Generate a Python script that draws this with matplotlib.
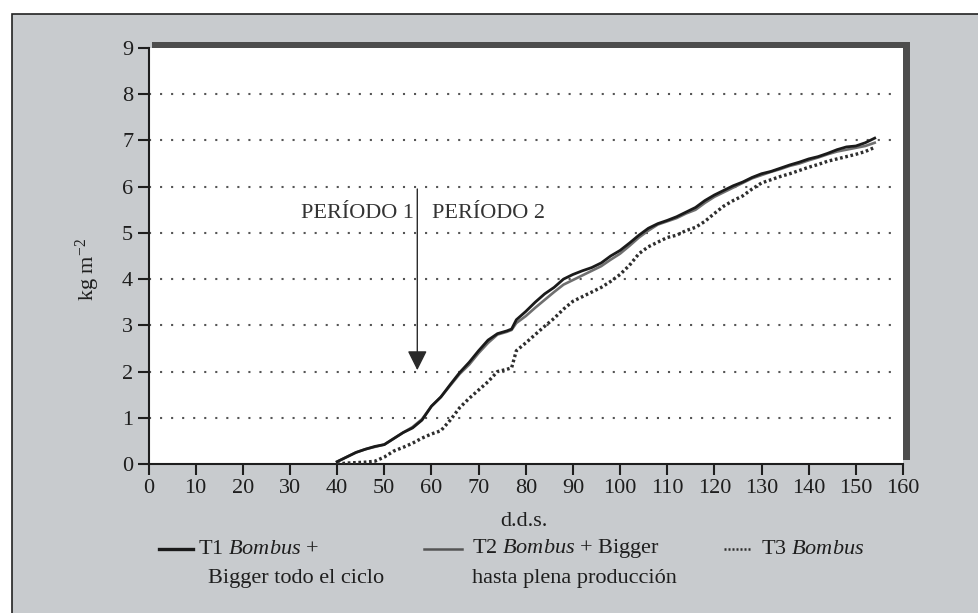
import numpy as np
import matplotlib
matplotlib.use('Agg')
import matplotlib.pyplot as plt
from matplotlib.patches import Rectangle
from matplotlib.lines import Line2D

plt.rcParams['font.family'] = ['Liberation Serif', 'DejaVu Serif']
plt.rcParams['mathtext.fontset'] = 'custom'
plt.rcParams['mathtext.rm'] = 'Liberation Serif'
plt.rcParams['mathtext.it'] = 'Liberation Serif:italic'

# datos (d.d.s. vs kg m-2)
dds = [40, 42, 44, 46, 48, 50, 52, 54, 56, 58, 60, 62, 64, 66, 68, 70, 72, 74, 76, 77,
       78, 80, 82, 84, 86, 88, 90, 92, 94, 96, 98, 100, 102, 104, 106, 108, 110, 112,
       114, 116, 118, 120, 122, 124, 126, 128, 130, 132, 134, 136, 138, 140, 142, 144,
       146, 148, 150, 152, 154]
t1 = [0.05, 0.15, 0.25, 0.32, 0.38, 0.42, 0.55, 0.68, 0.78, 0.95, 1.25, 1.45, 1.72, 1.98,
      2.20, 2.45, 2.68, 2.82, 2.88, 2.92, 3.12, 3.30, 3.50, 3.68, 3.82, 4.00, 4.10, 4.18,
      4.25, 4.35, 4.50, 4.62, 4.78, 4.95, 5.10, 5.20, 5.27, 5.35, 5.45, 5.55, 5.70, 5.82,
      5.92, 6.02, 6.10, 6.20, 6.28, 6.33, 6.40, 6.47, 6.53, 6.60, 6.65, 6.72, 6.80, 6.86,
      6.88, 6.95, 7.05]
t2 = [0.05, 0.15, 0.25, 0.32, 0.37, 0.42, 0.55, 0.68, 0.80, 0.97, 1.25, 1.45, 1.70, 1.95,
      2.15, 2.40, 2.62, 2.80, 2.86, 2.90, 3.05, 3.20, 3.38, 3.55, 3.72, 3.88, 3.98, 4.08,
      4.18, 4.28, 4.42, 4.55, 4.72, 4.90, 5.05, 5.18, 5.25, 5.32, 5.42, 5.50, 5.65, 5.78,
      5.88, 5.98, 6.08, 6.18, 6.25, 6.32, 6.38, 6.45, 6.50, 6.57, 6.63, 6.70, 6.76, 6.80,
      6.84, 6.88, 6.95]
t3 = [0.00, 0.02, 0.03, 0.04, 0.06, 0.15, 0.28, 0.36, 0.45, 0.56, 0.65, 0.72, 0.95, 1.22,
      1.42, 1.60, 1.78, 2.00, 2.05, 2.08, 2.45, 2.62, 2.80, 2.98, 3.15, 3.35, 3.52, 3.62,
      3.72, 3.82, 3.95, 4.10, 4.30, 4.55, 4.70, 4.80, 4.90, 4.95, 5.05, 5.12, 5.25, 5.42,
      5.58, 5.70, 5.80, 5.95, 6.08, 6.15, 6.22, 6.28, 6.35, 6.42, 6.48, 6.55, 6.60, 6.65,
      6.70, 6.76, 6.85]

xticks = list(range(0, 161, 10))
yticks = list(range(0, 10))

W, H = 979, 613
fig = plt.figure(figsize=(9.79, 6.13), dpi=100, facecolor='white')

def fx(p):
    return p / W

def fy(p):
    return 1 - p / H

fs = 16
tc = '#1e1e1e'

# fondo gris con marco
fig.add_artist(Rectangle((fx(12), -0.05), 1.1, fy(14) + 0.05, transform=fig.transFigure,
                         facecolor='#c8cbce', edgecolor='#222222', lw=1.2, zorder=0))

L, R, T, B = 148.5, 903, 48, 464
# sombra del area de grafico
fig.add_artist(Rectangle((fx(L + 4), fy(B - 4)), fx(R + 7) - fx(L + 4), fy(T - 6) - fy(B - 4),
                         transform=fig.transFigure, facecolor='#4d4d4d', edgecolor='none', zorder=1))

ax = fig.add_axes([fx(L), fy(B), fx(R) - fx(L), fy(T) - fy(B)], zorder=2)
ax.set_facecolor('white')

for v in yticks[1:-1]:
    ax.plot([0, 159], [v, v], color='#555555', lw=1.5, linestyle=(0, (1, 4.3)), zorder=1)

ax.plot(dds, t3, color='#2e2e2e', lw=2.4, linestyle=(0, (0.8, 0.8)), zorder=3)
ax.plot(dds, t2, color='#6f6f6f', lw=1.9, zorder=3)
ax.plot(dds, t1, color='#1a1a1a', lw=2.0, zorder=4)

ax.annotate('', xy=(57, 2.03), xytext=(57, 5.95),
            arrowprops=dict(arrowstyle='-|>,head_length=0.6,head_width=0.3',
                            color='#2a2a2a', lw=1.0, mutation_scale=20, shrinkA=0, shrinkB=0))
ax.text(56.2, 5.42, 'PERÍODO 1', ha='right', va='center', fontsize=fs, color='#333333')
ax.text(60.2, 5.42, 'PERÍODO 2', ha='left', va='center', fontsize=fs, color='#333333')

ax.set_xlim(0, 160)
ax.set_ylim(0, 9)
ax.set_xticks(xticks)
ax.set_yticks(yticks)
ax.tick_params(axis='both', direction='out', length=8, width=1.5, labelsize=fs,
               colors=tc, pad=3)
ax.spines['top'].set_visible(False)
ax.spines['right'].set_visible(False)
for s in ['left', 'bottom']:
    ax.spines[s].set_linewidth(1.5)
    ax.spines[s].set_color(tc)

fig.text(fx(524), fy(522), 'd.d.s.', ha='center', va='center', fontsize=fs, color=tc)
fig.text(fx(88), fy(270), 'kg m$^{-2}$', ha='center', va='center', rotation=90,
         fontsize=fs, color=tc)

# leyenda dibujada a mano
y1, y2 = fy(549), fy(578)
fig.add_artist(Line2D([fx(159), fx(193)], [y1, y1], transform=fig.transFigure,
                      color='#1a1a1a', lw=2.4))
fig.text(fx(198), y1, 'T1 $\\mathit{Bombus}$ +', ha='left', va='center', fontsize=fs, color=tc)
fig.text(fx(208), y2, 'Bigger todo el ciclo', ha='left', va='center', fontsize=fs, color=tc)
fig.add_artist(Line2D([fx(424), fx(462)], [y1, y1], transform=fig.transFigure,
                      color='#555555', lw=1.8))
fig.text(fx(472), y1, 'T2 $\\mathit{Bombus}$ + Bigger', ha='left', va='center', fontsize=fs, color=tc)
fig.text(fx(472), y2, 'hasta plena producción', ha='left', va='center', fontsize=fs, color=tc)
fig.add_artist(Line2D([fx(724), fx(751)], [y1, y1], transform=fig.transFigure,
                      color='#2e2e2e', lw=1.8, linestyle=(0, (0.8, 0.8))))
fig.text(fx(761), y1, 'T3 $\\mathit{Bombus}$', ha='left', va='center', fontsize=fs, color=tc)

fig.savefig('out.png', dpi=100, facecolor=fig.get_facecolor())
